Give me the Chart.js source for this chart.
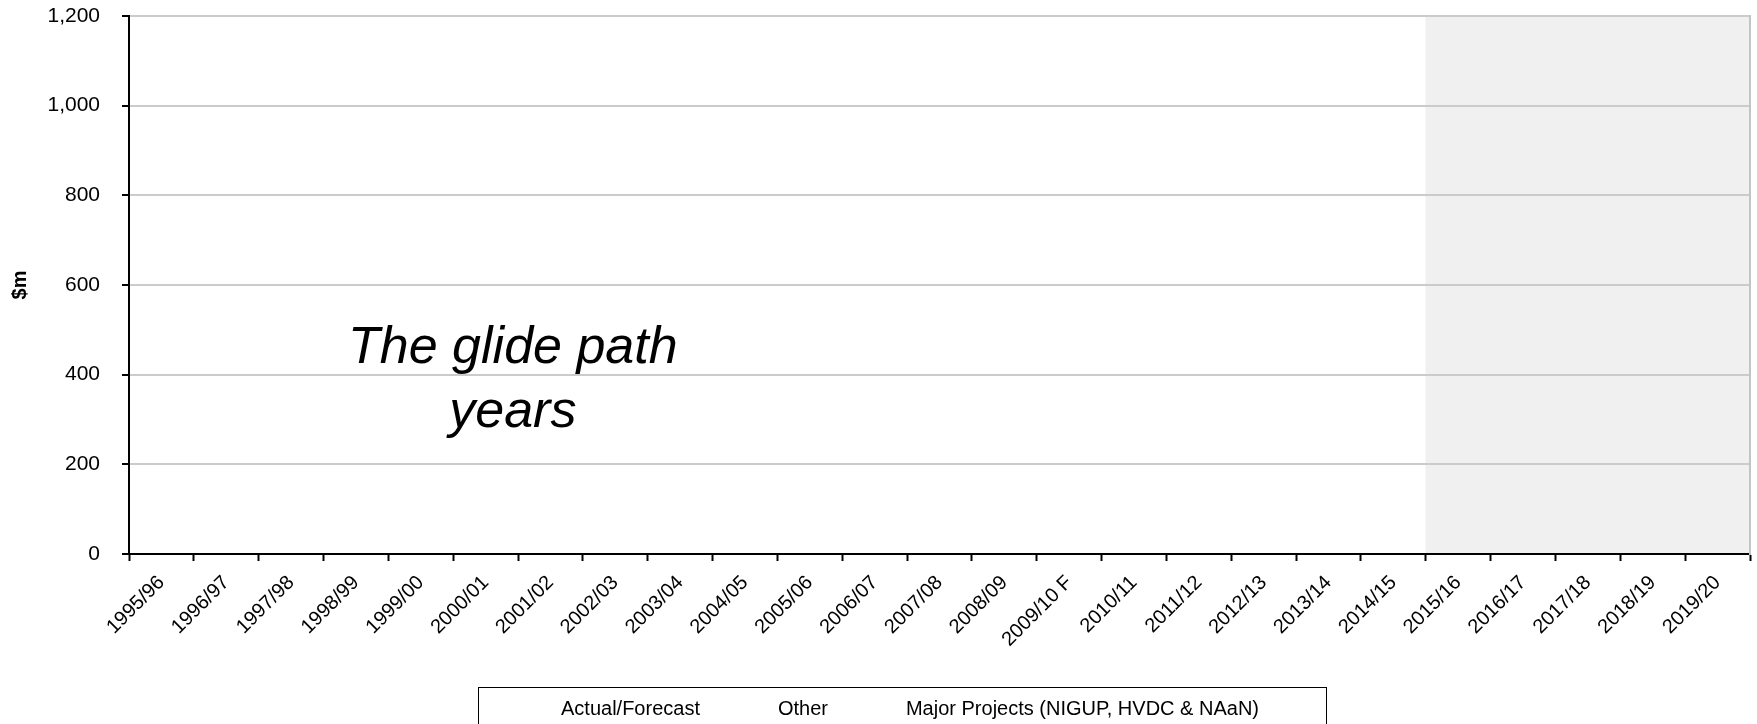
<!DOCTYPE html>
<html>
<head>
<meta charset="utf-8">
<script src="https://cdn.jsdelivr.net/npm/chart.js@4.4.1/dist/chart.umd.min.js"></script>
<style>
body { margin: 0; background: #fff; }
#wrap { width: 1757px; height: 724px; position: relative; }
</style>
</head>
<body>
<div id="wrap"><canvas id="capexChart"></canvas></div>
<script>
const years = ['1995/96', '1996/97', '1997/98', '1998/99', '1999/00', '2000/01', '2001/02', '2002/03',
    '2003/04', '2004/05', '2005/06', '2006/07', '2007/08', '2008/09', '2009/10 F', '2010/11', '2011/12',
    '2012/13', '2013/14', '2014/15', '2015/16', '2016/17', '2017/18', '2018/19', '2019/20'];

// series are in the legend but nothing of them is drawn in the picture
const actualForecast = [null, null, null, null, null, null, null, null, null, null, null, null, null,
    null, null, null, null, null, null, null, null, null, null, null, null];
const other = [null, null, null, null, null, null, null, null, null, null, null, null, null,
    null, null, null, null, null, null, null, null, null, null, null, null];
const majorProjects = [null, null, null, null, null, null, null, null, null, null, null, null, null,
    null, null, null, null, null, null, null, null, null, null, null, null];

// grey band over the later years (2015/16 onwards)
const forecastBand = [null, null, null, null, null, null, null, null, null, null, null, null, null,
    null, null, null, null, null, null, null, 1200, 1200, 1200, 1200, 1200];

const noteLines = ['The glide path', 'years'];
const noteAt = { x: 5.42, y: 426 };

const yMin = 0;
const yMax = 1200;
const yStep = 200;

const font = 'Liberation Sans, Arial, sans-serif';

const glideNote = {
    id: 'glideNote',
    afterDraw(chart) {
        const ctx = chart.ctx;
        const x = chart.scales.x.getPixelForValue(noteAt.x);
        const y = chart.scales.y.getPixelForValue(noteAt.y);
        ctx.save();
        ctx.font = 'italic 52px ' + font;
        ctx.fillStyle = '#000';
        ctx.textAlign = 'center';
        ctx.textBaseline = 'alphabetic';
        noteLines.forEach((line, i) => ctx.fillText(line, x, y + i * 64));
        ctx.restore();
    }
};

const legendFrame = {
    id: 'legendFrame',
    afterDraw(chart) {
        const legend = chart.legend;
        const boxes = legend.legendHitBoxes;
        if (!boxes || !boxes.length) return;
        const last = boxes[boxes.length - 1];
        const left = boxes[0].left - 13;
        const right = last.left + last.width + 67;
        const ctx = chart.ctx;
        ctx.save();
        ctx.strokeStyle = '#000';
        ctx.lineWidth = 1;
        ctx.strokeRect(left + 0.5, legend.top - 3.5, right - left, 60);
        ctx.restore();
    }
};

const ctx = document.getElementById('capexChart').getContext('2d');
const myChart = new Chart(ctx, {
    type: 'bar',
    data: {
        labels: years,
        datasets: [{
            type: 'line',
            label: 'Actual/Forecast',
            data: actualForecast,
            borderColor: 'rgba(0,0,0,0)',
            backgroundColor: 'rgba(0,0,0,0)'
        }, {
            label: 'Other',
            data: other,
            borderColor: 'rgba(0,0,0,0)',
            backgroundColor: 'rgba(0,0,0,0)'
        }, {
            label: 'Major Projects (NIGUP, HVDC & NAaN)',
            data: majorProjects,
            borderColor: 'rgba(0,0,0,0)',
            backgroundColor: 'rgba(0,0,0,0)'
        }, {
            label: 'band',
            data: forecastBand,
            backgroundColor: '#f0f0f0',
            borderWidth: 0,
            barPercentage: 1,
            categoryPercentage: 1
        }]
    },
    options: {
        responsive: true,
        maintainAspectRatio: false,
        animation: false,
        layout: { padding: { top: 16, right: 7, left: 0, bottom: -5 } },
        plugins: {
            tooltip: { enabled: false },
            legend: {
                position: 'bottom',
                labels: {
                    font: { family: font, size: 20 },
                    color: '#000',
                    boxWidth: 60,
                    boxHeight: 20,
                    padding: 8,
                    filter: item => item.datasetIndex !== 3
                }
            }
        },
        scales: {
            x: {
                stacked: true,
                offset: true,
                afterFit: scale => { scale.height = 137; },
                grid: {
                    offset: true,
                    drawOnChartArea: false,
                    tickLength: 7,
                    tickColor: '#000',
                    tickWidth: 2
                },
                border: { color: '#000', width: 2, z: 2 },
                ticks: {
                    font: { family: font, size: 20 },
                    color: '#000',
                    minRotation: 45,
                    maxRotation: 45,
                    autoSkip: false,
                    padding: 10
                }
            },
            y: {
                stacked: true,
                min: yMin,
                max: yMax,
                afterFit: scale => {
                    scale.width = 129;
                    scale.paddingTop = 12;
                },
                grid: {
                    z: 1,
                    color: c => c.tick && c.tick.value === 0 ? 'rgba(0,0,0,0)' : '#cbcbcb',
                    lineWidth: 2,
                    tickLength: 7,
                    tickColor: '#000',
                    tickWidth: 2
                },
                border: { color: '#000', width: 2, z: 2 },
                ticks: {
                    stepSize: yStep,
                    font: { family: font, size: 21 },
                    color: '#000',
                    padding: 22,
                    callback: v => v.toLocaleString('en-US')
                },
                title: {
                    display: true,
                    text: '$m',
                    color: '#000',
                    font: { family: font, size: 20, weight: 'bold' },
                    padding: { top: 8, bottom: 16 }
                }
            },
            y1: {
                position: 'right',
                min: yMin,
                max: yMax,
                afterFit: scale => { scale.width = 0; },
                grid: { drawOnChartArea: false, drawTicks: false },
                border: { color: '#c4c4c4', width: 2, z: 2 },
                ticks: { display: false }
            }
        }
    },
    plugins: [glideNote, legendFrame]
});
</script>
</body>
</html>
